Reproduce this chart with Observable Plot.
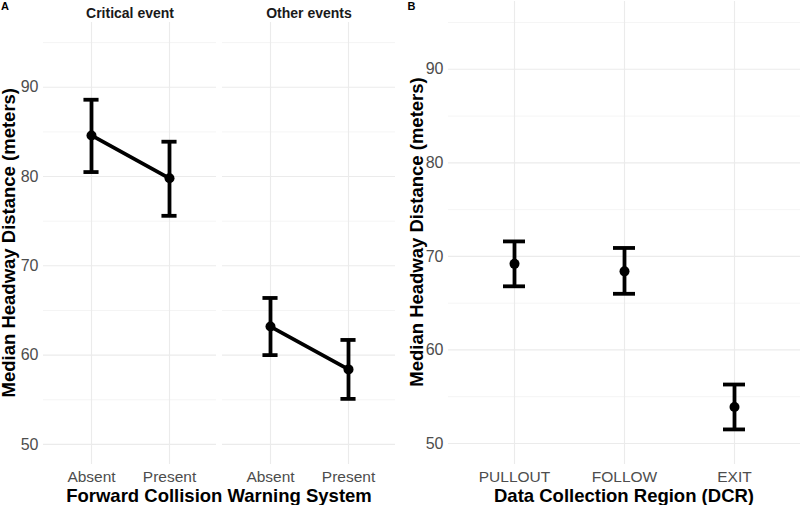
<!DOCTYPE html>
<html>
<head>
<meta charset="utf-8">
<script src="https://cdn.jsdelivr.net/npm/d3@7"></script>
<script src="https://cdn.jsdelivr.net/npm/@observablehq/plot@0.6"></script>
<style>
  html, body { margin: 0; padding: 0; background: #fff; }
  #wrap { position: relative; width: 800px; height: 505px; overflow: hidden; background: #fff; }
  #wrap svg { position: absolute; top: 0; }
</style>
</head>
<body>
<div id="wrap"></div>
<script>
// ---------- Data ----------
const eventTypes = ["Critical event", "Other events"];
const fcwLevels = ["Absent", "Present"];
const fcwEvent  = ["Critical event", "Critical event", "Other events", "Other events"];
const fcwSystem = ["Absent", "Present", "Absent", "Present"];
const fcwMedian = [84.6, 79.8, 63.2, 58.4];
const fcwLower  = [80.5, 75.6, 60.0, 55.1];
const fcwUpper  = [88.6, 83.9, 66.4, 61.7];

const dcrRegions = ["PULLOUT", "FOLLOW", "EXIT"];
const dcrMedian  = [69.2, 68.4, 53.9];
const dcrLower   = [66.8, 66.0, 51.5];
const dcrUpper   = [71.6, 70.9, 56.3];

const yTicks = [50, 60, 70, 80, 90];
const yMinor = [55, 65, 75, 85, 95];
const yDomain = [47.75, 97.25];

const yTitle = "Median Headway Distance (meters)";
const xTitleA = "Forward Collision Warning System";
const xTitleB = "Data Collection Region (DCR)";

// ---------- Styling ----------
const font = "'Liberation Sans', Arial, Helvetica, sans-serif";
const grid = "#ebebeb";
const tickGray = "#4d4d4d";
const sw = 3.8;

const dataA = fcwMedian.map((m, i) => ({event: fcwEvent[i], fcw: fcwSystem[i], m, lo: fcwLower[i], hi: fcwUpper[i]}));
const dataB = dcrMedian.map((m, i) => ({region: dcrRegions[i], m, lo: dcrLower[i], hi: dcrUpper[i]}));

// layout A
const mlA = 43, mrA = 5, fxPad = 0.034;
const frameA = 400 - mlA - mrA;
const fxStep = frameA / (2 - fxPad);
const fxBand = fxStep * (1 - fxPad);
const capInsetA = 0.4 * (fxBand / 2.2);

// layout B
const mlB = 48, mrB = 0;
const capInsetB = 0.4 * ((400 - mlB - mrB) / 3.2);

const plotA = Plot.plot({
  width: 400, height: 505,
  marginLeft: mlA, marginRight: mrA, marginTop: 22, marginBottom: 41,
  style: {fontFamily: font, background: "transparent", overflow: "visible"},
  fx: {domain: eventTypes, paddingInner: fxPad, paddingOuter: 0, label: null},
  x: {domain: fcwLevels, type: "band", paddingInner: 0, paddingOuter: 0.1, label: null},
  y: {domain: yDomain, label: null},
  marks: [
    Plot.ruleY(yMinor, {stroke: grid, strokeWidth: 0.55}),
    Plot.ruleY(yTicks, {stroke: grid, strokeWidth: 1.1}),
    Plot.ruleX(fcwLevels, {x: d => d, stroke: grid, strokeWidth: 1.1}),
    Plot.axisFx({anchor: "top", tickSize: 0, tickPadding: 5, label: null, fontSize: 14, fontWeight: "bold", fill: "#1a1a1a"}),
    Plot.axisX({tickSize: 0, tickPadding: 6, label: null, fontSize: 15.5, fill: tickGray}),
    Plot.axisY({ticks: yTicks, tickSize: 0, tickPadding: 5, label: null, fontSize: 16, fill: tickGray}),
    Plot.ruleX(dataA, {fx: "event", x: "fcw", y1: "lo", y2: "hi", stroke: "black", strokeWidth: sw}),
    Plot.tickY(dataA, {fx: "event", x: "fcw", y: "lo", insetLeft: capInsetA, insetRight: capInsetA, stroke: "black", strokeWidth: sw}),
    Plot.tickY(dataA, {fx: "event", x: "fcw", y: "hi", insetLeft: capInsetA, insetRight: capInsetA, stroke: "black", strokeWidth: sw}),
    Plot.line(dataA, {fx: "event", x: "fcw", y: "m", stroke: "black", strokeWidth: sw}),
    Plot.dot(dataA, {fx: "event", x: "fcw", y: "m", r: 5, fill: "black", stroke: "none"})
  ]
});

const plotB = Plot.plot({
  width: 400, height: 505,
  marginLeft: mlB, marginRight: mrB, marginTop: 1, marginBottom: 41,
  style: {fontFamily: font, background: "transparent", overflow: "visible"},
  x: {domain: dcrRegions, type: "band", paddingInner: 0, paddingOuter: 0.1, label: null},
  y: {domain: yDomain, label: null},
  marks: [
    Plot.ruleY(yMinor, {stroke: grid, strokeWidth: 0.55}),
    Plot.ruleY(yTicks, {stroke: grid, strokeWidth: 1.1}),
    Plot.ruleX(dcrRegions, {x: d => d, stroke: grid, strokeWidth: 1.1}),
    Plot.axisX({tickSize: 0, tickPadding: 6, label: null, fontSize: 15.5, fill: tickGray}),
    Plot.axisY({ticks: yTicks, tickSize: 0, tickPadding: 5, label: null, fontSize: 16, fill: tickGray}),
    Plot.ruleX(dataB, {x: "region", y1: "lo", y2: "hi", stroke: "black", strokeWidth: sw}),
    Plot.tickY(dataB, {x: "region", y: "lo", insetLeft: capInsetB, insetRight: capInsetB, stroke: "black", strokeWidth: sw}),
    Plot.tickY(dataB, {x: "region", y: "hi", insetLeft: capInsetB, insetRight: capInsetB, stroke: "black", strokeWidth: sw}),
    Plot.dot(dataB, {x: "region", y: "m", r: 5, fill: "black", stroke: "none"})
  ]
});

const wrap = document.getElementById("wrap");
plotA.style.left = "0px";
plotB.style.left = "400px";
wrap.appendChild(plotA);
wrap.appendChild(plotB);

// ---------- Titles overlay ----------
const ov = d3.select(wrap).append("svg")
  .attr("width", 800).attr("height", 505)
  .style("left", "0px").style("pointer-events", "none")
  .attr("font-family", font);

const titles = [
  {t: "A", x: 1, y: 10, size: 11, anchor: "start", rot: false},
  {t: "B", x: 407.5, y: 10, size: 11, anchor: "start", rot: false},
  {t: yTitle, x: 15.5, y: 242.7, size: 18.5, anchor: "middle", rot: true},
  {t: yTitle, x: 422.5, y: 232, size: 18.5, anchor: "middle", rot: true},
  {t: xTitleA, x: 219, y: 501.5, size: 18.5, anchor: "middle", rot: false},
  {t: xTitleB, x: 624, y: 501.5, size: 18.5, anchor: "middle", rot: false}
];
ov.selectAll("text").data(titles).join("text")
  .attr("x", d => d.x).attr("y", d => d.y)
  .attr("text-anchor", d => d.anchor)
  .attr("font-size", d => d.size)
  .attr("font-weight", "bold")
  .attr("fill", "#000")
  .attr("transform", d => d.rot ? `rotate(-90 ${d.x} ${d.y})` : null)
  .text(d => d.t);
</script>
</body>
</html>
